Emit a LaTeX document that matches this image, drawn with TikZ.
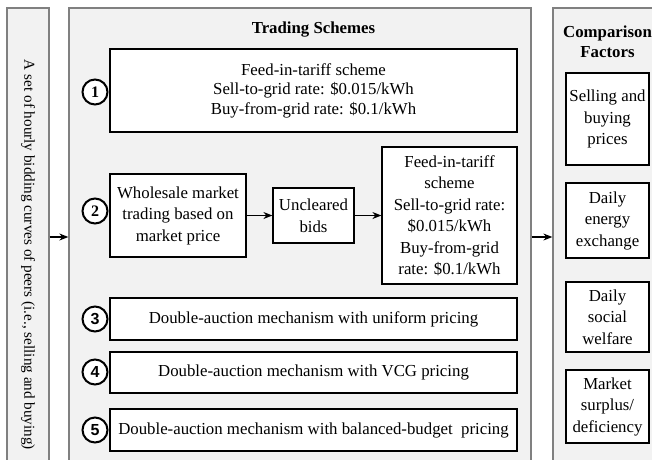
\documentclass[tikz,border=0pt]{standalone}
\usepackage{fontspec}
\setmainfont{Liberation Serif}
\setsansfont{Liberation Sans}
\usetikzlibrary{positioning,arrows.meta}
\definecolor{panelfill}{HTML}{F2F2F2}
\definecolor{panelline}{HTML}{808080}

\begin{document}
\begin{tikzpicture}[x=1pt,y=-1pt,>={Stealth[length=9pt,width=7pt]},
    panel/.style={draw=panelline,fill=panelfill,line width=1.3pt,inner sep=0pt},
    box/.style={draw,fill=white,line width=1.2pt,align=center,inner sep=0pt,
        font=\fontsize{16.8}{21.5}\selectfont},
    num/.style={draw,circle,fill=white,line width=2pt,minimum size=25pt,inner sep=0pt},
    link/.style={line width=1.2pt,->}]

    \useasboundingbox (0,0) rectangle (652,459);
    \clip (0,0) rectangle (652,459);

    % PANELS
    \node[panel,minimum width=42pt,minimum height=458pt] (inputs) at (28,237) {};
    \node[panel,minimum width=462pt,minimum height=458pt] (schemes) at (300,237) {};
    \node[panel,minimum width=109pt,minimum height=458pt] (factors) at (607.5,237) {};

    % Left text
    \node[rotate=-90,font=\fontsize{15.2}{18}\selectfont] (inputtext) at (28,255)
        {A set of hourly bidding curves of peers (i.e., selling and buying)};

    % Titles
    \node[font=\bfseries\fontsize{16.8}{19}\selectfont] (schemestitle) at (313.5,30) {Trading Schemes};
    \node[font=\bfseries\fontsize{16.8}{20}\selectfont,align=center] (factorstitle) at (607.5,42)
        {Comparison\\Factors};

    % Scheme 1
    \node[box,minimum width=407pt,minimum height=83pt,font=\fontsize{16.8}{19.5}\selectfont] (fit) at (313.5,90.5)
        {Feed-in-tariff scheme\\Sell-to-grid rate: \$0.015/kWh\\Buy-from-grid rate: \$0.1/kWh};
    \node[num,font=\bfseries\fontsize{16}{16}\selectfont] (one) at (95,92) {1};

    % Scheme 2
    \node[box,minimum width=136pt,minimum height=83pt] (wholesale) at (178,215.5)
        {Wholesale market\\trading based on\\market price};
    \node[box,minimum width=81pt,minimum height=55pt] (uncleared) at (313.5,215.5)
        {Uncleared\\bids};
    \node[box,minimum width=135pt,minimum height=137pt] (fitrest) at (449.5,215.5)
        {Feed-in-tariff\\scheme\\Sell-to-grid rate:\\\$0.015/kWh\\Buy-from-grid\\rate: \$0.1/kWh};
    \node[num,font=\bfseries\fontsize{16}{16}\selectfont] (two) at (95,211) {2};
    \draw[link] (wholesale) -- (uncleared);
    \draw[link] (uncleared) -- (fitrest);

    % Schemes 3 to 5
    \node[box,minimum width=407pt,minimum height=42pt] (uniform) at (313.5,319)
        {Double-auction mechanism with uniform pricing};
    \node[box,minimum width=407pt,minimum height=41pt] (vcg) at (313.5,372.5)
        {Double-auction mechanism with VCG pricing};
    \node[box,minimum width=407pt,minimum height=42pt] (budget) at (313.5,430)
        {Double-auction mechanism with balanced-budget\ \ pricing};
    \node[num,font=\sffamily\bfseries\fontsize{16}{16}\selectfont] (three) at (95,319) {3};
    \node[num,font=\sffamily\bfseries\fontsize{16}{16}\selectfont] (four) at (95,372) {4};
    \node[num,font=\sffamily\bfseries\fontsize{16}{16}\selectfont] (five) at (95,430) {5};

    % Comparison factors
    \node[box,minimum width=83pt,minimum height=92pt] (prices) at (607.5,119)
        {Selling and\\buying\\prices};
    \node[box,minimum width=83pt,minimum height=75pt] (energy) at (607.5,220.5)
        {Daily\\energy\\exchange};
    \node[box,minimum width=83pt,minimum height=70pt] (welfare) at (607.5,317)
        {Daily\\social\\welfare};
    \node[box,minimum width=83pt,minimum height=73pt] (surplus) at (607.5,406.5)
        {Market\\surplus/\\deficiency};

    % Panel arrows
    \draw[link] (inputs) -- (schemes);
    \draw[link] (schemes) -- (factors);

\end{tikzpicture}
\end{document}
